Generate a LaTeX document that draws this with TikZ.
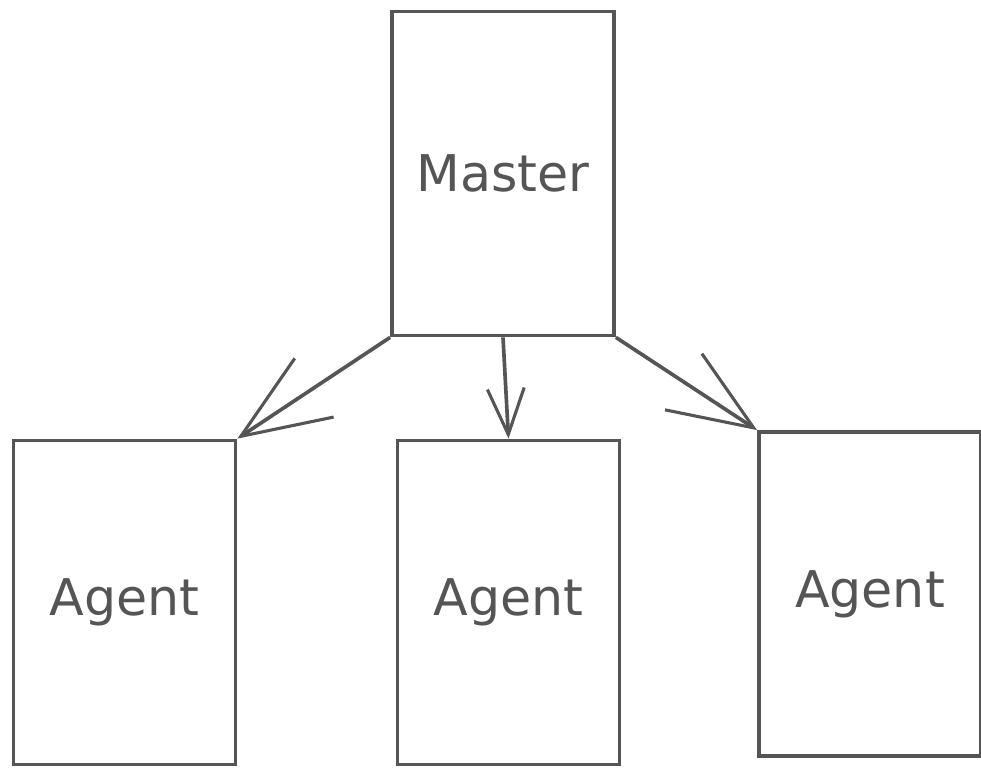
\documentclass[tikz,border=0pt]{standalone}
\usepackage{fontspec}
\setmainfont{DejaVu Sans}
\usetikzlibrary{arrows.meta}
\definecolor{ink}{HTML}{555555}
\tikzset{
  box/.style={draw=ink, line width=2.6pt, text=ink, inner sep=0pt,
    minimum width=5.55cm, minimum height=8.1cm, font=\fontsize{36}{40}\selectfont},
  barb/.style={-{Straight Barb[length=#1, width=0.8*#1, line width=2.2pt]}},
}
\begin{document}
\begin{tikzpicture}[x=0.025cm, y=-0.025cm]
      \useasboundingbox (0,0) rectangle (981,768);
      \draw
        (503,173.5) node[box] (master){Master}
        (124.5,602.5) node[box] (agentleft){Agent}
        (508.5,602.5) node[box] (agentmid){Agent}
        (870,594) node[box] (agentright){Agent};
      \begin{scope}[draw=ink, line width=2.6pt]
        \draw[barb=2.2cm] (master.south west) to (agentleft.north east);
        \draw[barb=1.15cm] (master.south) to (agentmid.north);
        \draw[barb=2.1cm] (master.south east) to (agentright.north west);
      \end{scope}
    \end{tikzpicture}
\end{document}
